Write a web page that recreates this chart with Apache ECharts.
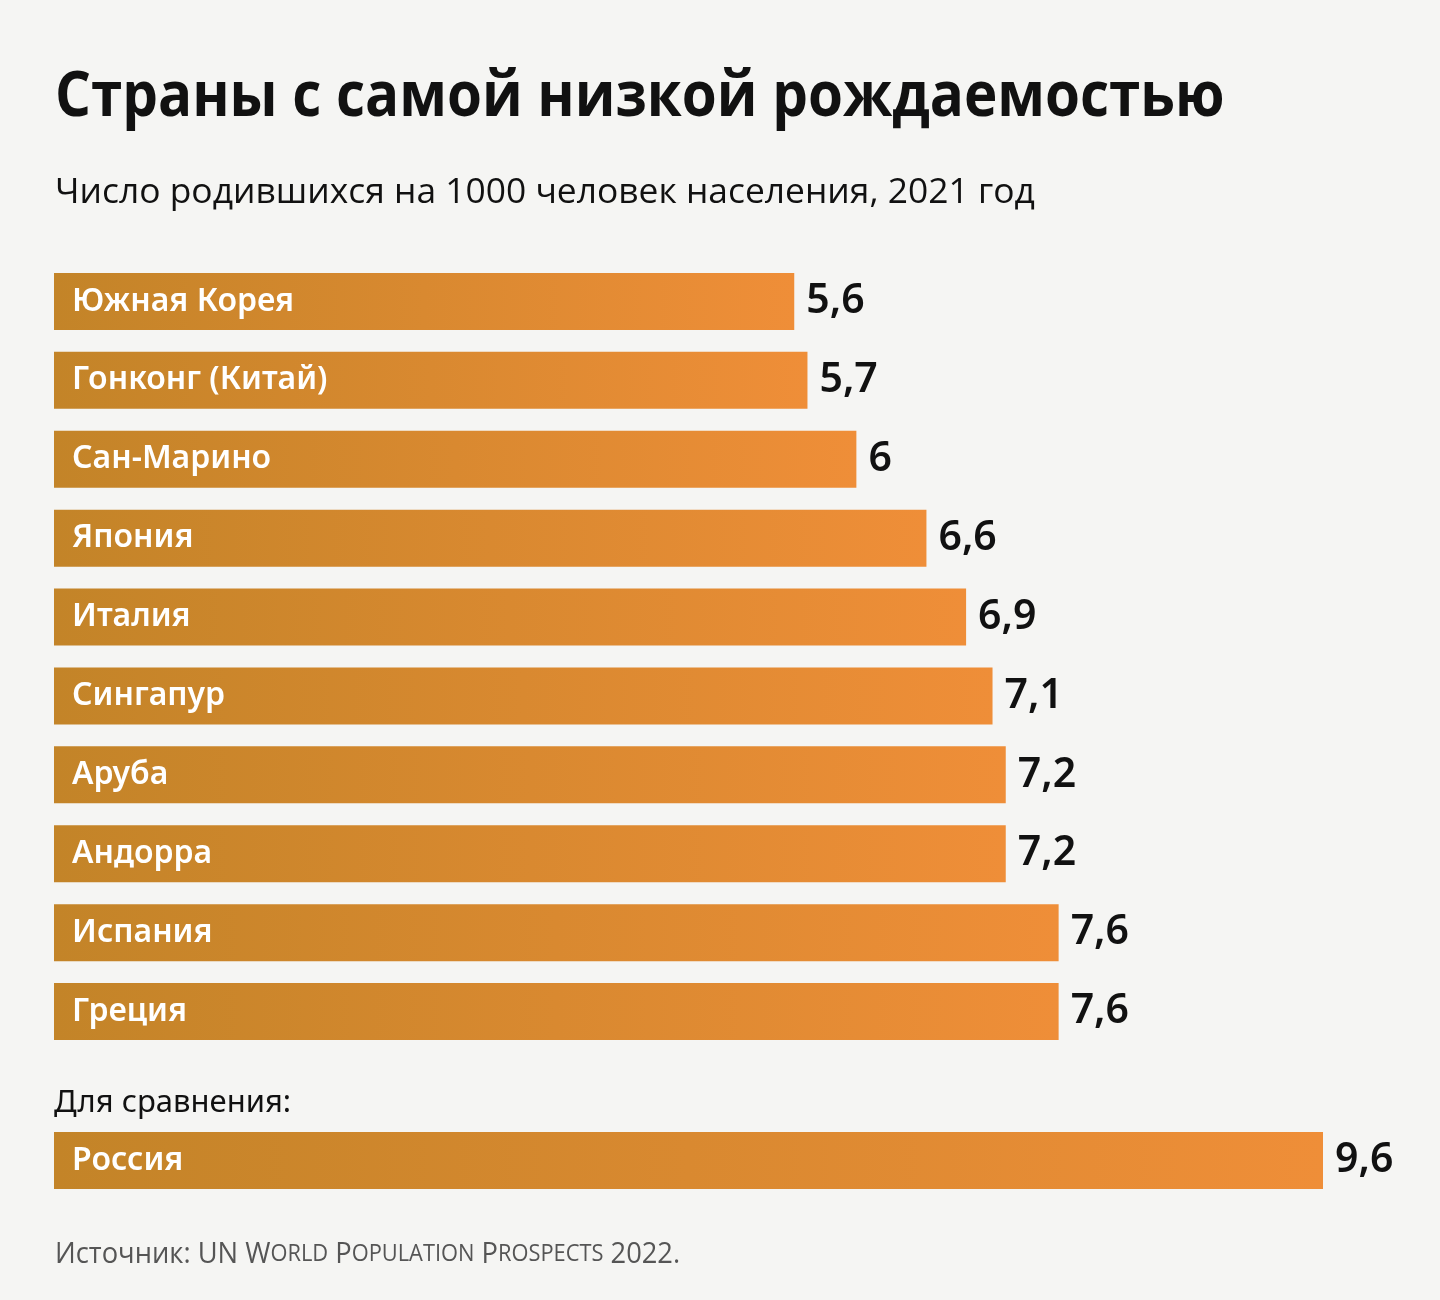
<!DOCTYPE html>
<html><head><meta charset="utf-8">
<script src="https://cdn.jsdelivr.net/npm/echarts@6/dist/echarts.min.js"></script>
<style>html,body{margin:0;padding:0;background:#f5f5f3}#c{width:1440px;height:1300px}</style>
</head><body><div id="c"></div>
<script>
const countries = ['Южная Корея','Гонконг (Китай)','Сан-Марино','Япония','Италия','Сингапур','Аруба','Андорра','Испания','Греция'];
const values = [5.6,5.7,6.07,6.6,6.9,7.1,7.2,7.2,7.6,7.6];
const valueLabels = ['5,6','5,7','6','6,6','6,9','7,1','7,2','7,2','7,6','7,6'];
const compareCountries = ['Россия'];
const compareValues = [9.6];
const compareLabels = ['9,6'];
const titleText = 'Страны с самой низкой рождаемостью';
const subtitleText = 'Число родившихся на 1000 человек населения, 2021 год';
const compareLabel = 'Для сравнения:';

const grad = new echarts.graphic.LinearGradient(0,0,1,0,[{offset:0,color:'#c38428'},{offset:1,color:'#ef8e38'}]);
const sans = '"Open Sans","Noto Sans",sans-serif';
const noto = '"Noto Sans","Open Sans",sans-serif';

function barSeries(idx, data, labels){
  return {
    type:'bar', xAxisIndex:idx, yAxisIndex:idx, barWidth:57,
    data: data, itemStyle:{color:grad},
    label:{show:true, position:'right', distance:12, formatter:p=>labels[p.dataIndex],
      color:'#111', fontSize:41, fontWeight:600, fontFamily:noto},
    silent:true, animation:false
  };
}
function nameSeries(idx, data, names){
  return {
    type:'bar', xAxisIndex:idx, yAxisIndex:idx, barWidth:57, barGap:'-100%',
    data: data, itemStyle:{color:'transparent'},
    label:{show:true, position:'insideLeft', distance:18, formatter:p=>names[p.dataIndex],
      color:'#fff', fontSize:32, fontWeight:600, fontFamily:noto},
    silent:true, animation:false, z:5
  };
}

const chart = echarts.init(document.getElementById('c'), null, {renderer:'canvas'});
chart.setOption({
  backgroundColor:'#f5f5f3',
  graphic:[
    {type:'text', x:55, y:67, scaleX:0.897, silent:true,
      style:{x:0, y:0, text:titleText, fill:'#111', font:'bold 63px "Open Sans", sans-serif', verticalAlign:'top'}},
    {type:'text', x:55, y:176, scaleX:1.011, silent:true,
      style:{x:0, y:0, text:subtitleText, fill:'#111', font:'normal 35px "Open Sans", sans-serif', verticalAlign:'top'}},
    {type:'text', x:55, y:1239, scaleX:0.91, silent:true,
      style:{x:0, y:0, verticalAlign:'top',
        text:'{a|Источник: UN W}{b|ORLD}{a| P}{b|OPULATION}{a| P}{b|ROSPECTS}{a| 2022.}',
        rich:{a:{fontFamily:sans, fontWeight:'normal', fontSize:30, fill:'#555', color:'#555'},
              b:{fontFamily:sans, fontWeight:'normal', fontSize:24, fill:'#555', color:'#555'}}}}
  ],
  title:[
    {text:compareLabel, left:49, top:1083, textStyle:{fontFamily:noto, fontWeight:'normal', fontSize:31, color:'#111'}}
  ],
  grid:[
    {left:54, right:117, top:262, height:789},
    {left:54, right:117, top:1121, height:79}
  ],
  xAxis:[
    {gridIndex:0, type:'value', min:0, max:9.6, show:false},
    {gridIndex:1, type:'value', min:0, max:9.6, show:false}
  ],
  yAxis:[
    {gridIndex:0, type:'category', inverse:true, data:countries, show:false},
    {gridIndex:1, type:'category', inverse:true, data:compareCountries, show:false}
  ],
  series:[
    barSeries(0, values, valueLabels), nameSeries(0, values, countries),
    barSeries(1, compareValues, compareLabels), nameSeries(1, compareValues, compareCountries)
  ]
});
</script></body></html>
